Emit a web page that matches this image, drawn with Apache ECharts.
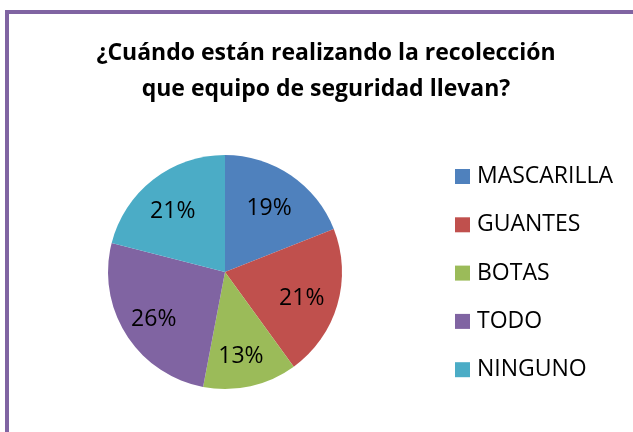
<!DOCTYPE html>
<html>
<head>
<meta charset="utf-8">
<script src="https://cdn.jsdelivr.net/npm/echarts@6/dist/echarts.min.js"></script>
<style>
	html, body { margin: 0; padding: 0; background: #fff; }
	#chart { width: 633px; height: 432px; }
</style>
</head>
<body>
<div id="chart"></div>
<script>
	// datos del grafico
	var categorias = ['MASCARILLA', 'GUANTES', 'BOTAS', 'TODO', 'NINGUNO'];
	var valores = [19, 21, 13, 26, 21];
	var colores = ['#4F81BD', '#C0504D', '#9BBB59', '#8064A2', '#4BACC6'];
	var titulo = '¿Cuándo están realizando la recolección\nque equipo de seguridad llevan?';

	var datos = categorias.map(function (c, i) {
		return { name: c, value: valores[i] };
	});

	var myChart = echarts.init(document.getElementById('chart'));
	var option = {
		animation: false,
		color: colores,
		title: {
			text: titulo,
			left: 321,
			top: 30,
			textAlign: 'center',
			textStyle: {
				fontFamily: 'Open Sans',
				fontWeight: 'bold',
				fontSize: 23,
				lineHeight: 36,
				color: '#000'
			}
		},
		graphic: [{
			type: 'polyline',
			shape: { points: [[7, 440], [7, 12], [640, 12]] },
			style: { stroke: '#8064A2', lineWidth: 4, fill: null }
		}],
		legend: {
			orient: 'vertical',
			left: 450,
			top: 160,
			itemWidth: 15,
			itemHeight: 15,
			itemGap: 25.3,
			icon: 'rect',
			data: categorias,
			textStyle: {
				fontFamily: 'Open Sans',
				fontSize: 23,
				lineHeight: 23,
				color: '#000',
				padding: [0, 0, 0, 2]
			}
		},
		series: [{
			type: 'pie',
			center: [225, 272],
			radius: [0, 117],
			startAngle: 90,
			clockwise: true,
			data: datos,
			label: { show: false },
			labelLine: { show: false },
			itemStyle: { borderColor: '#fff', borderWidth: 0 }
		}, {
			// serie invisible solo para posicionar las etiquetas
			type: 'pie',
			center: [225, 272],
			radius: [0, 158],
			startAngle: 90,
			clockwise: true,
			silent: true,
			data: datos,
			itemStyle: { color: 'rgba(0,0,0,0)' },
			label: {
				show: true,
				position: 'inside',
				offset: [-2, 4],
				formatter: function (p) { return Math.round(p.percent) + '%'; },
				fontFamily: 'Open Sans',
				fontSize: 23,
				color: '#000'
			},
			labelLine: { show: false }
		}]
	};
	myChart.setOption(option);
</script>
</body>
</html>
